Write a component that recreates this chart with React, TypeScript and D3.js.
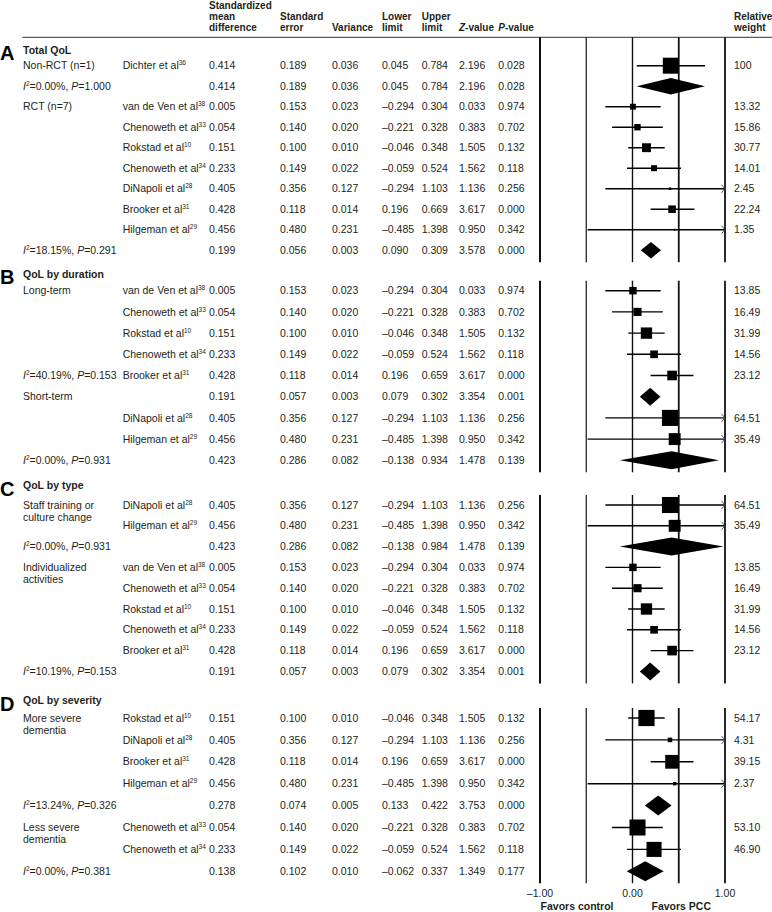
import React from "react";
import * as d3 from "d3";

type Row = [string, string, number, number, number, number, number, number, number, number | null];

const FONT = '"Liberation Sans", Arial, Helvetica, sans-serif';
const TXT = "#231f20";

const sectionLetters = ["A", "B", "C", "D"];
const sectionTitles = ["Total QoL", "QoL by duration", "QoL by type", "QoL by severity"];

// [label, study|ref, SMD, SE, Variance, Lower, Upper, Z, P, weight]
const rowsA: Row[] = [
  ["Non-RCT (n=1)", "Dichter et al|36", 0.414, 0.189, 0.036, 0.045, 0.784, 2.196, 0.028, 100],
  ["I2=0.00%, P=1.000", "", 0.414, 0.189, 0.036, 0.045, 0.784, 2.196, 0.028, null],
  ["RCT (n=7)", "van de Ven et al|38", 0.005, 0.153, 0.023, -0.294, 0.304, 0.033, 0.974, 13.32],
  ["", "Chenoweth et al|33", 0.054, 0.14, 0.02, -0.221, 0.328, 0.383, 0.702, 15.86],
  ["", "Rokstad et al|10", 0.151, 0.1, 0.01, -0.046, 0.348, 1.505, 0.132, 30.77],
  ["", "Chenoweth et al|34", 0.233, 0.149, 0.022, -0.059, 0.524, 1.562, 0.118, 14.01],
  ["", "DiNapoli et al|28", 0.405, 0.356, 0.127, -0.294, 1.103, 1.136, 0.256, 2.45],
  ["", "Brooker et al|31", 0.428, 0.118, 0.014, 0.196, 0.669, 3.617, 0.0, 22.24],
  ["", "Hilgeman et al|29", 0.456, 0.48, 0.231, -0.485, 1.398, 0.95, 0.342, 1.35],
  ["I2=18.15%, P=0.291", "", 0.199, 0.056, 0.003, 0.09, 0.309, 3.578, 0.0, null],
];

const rowsB: Row[] = [
  ["Long-term", "van de Ven et al|38", 0.005, 0.153, 0.023, -0.294, 0.304, 0.033, 0.974, 13.85],
  ["", "Chenoweth et al|33", 0.054, 0.14, 0.02, -0.221, 0.328, 0.383, 0.702, 16.49],
  ["", "Rokstad et al|10", 0.151, 0.1, 0.01, -0.046, 0.348, 1.505, 0.132, 31.99],
  ["", "Chenoweth et al|34", 0.233, 0.149, 0.022, -0.059, 0.524, 1.562, 0.118, 14.56],
  ["I2=40.19%, P=0.153", "Brooker et al|31", 0.428, 0.118, 0.014, 0.196, 0.659, 3.617, 0.0, 23.12],
  ["Short-term", "", 0.191, 0.057, 0.003, 0.079, 0.302, 3.354, 0.001, null],
  ["", "DiNapoli et al|28", 0.405, 0.356, 0.127, -0.294, 1.103, 1.136, 0.256, 64.51],
  ["", "Hilgeman et al|29", 0.456, 0.48, 0.231, -0.485, 1.398, 0.95, 0.342, 35.49],
  ["I2=0.00%, P=0.931", "", 0.423, 0.286, 0.082, -0.138, 0.934, 1.478, 0.139, null],
];

const rowsC: Row[] = [
  ["Staff training or|culture change", "DiNapoli et al|28", 0.405, 0.356, 0.127, -0.294, 1.103, 1.136, 0.256, 64.51],
  ["", "Hilgeman et al|29", 0.456, 0.48, 0.231, -0.485, 1.398, 0.95, 0.342, 35.49],
  ["I2=0.00%, P=0.931", "", 0.423, 0.286, 0.082, -0.138, 0.984, 1.478, 0.139, null],
  ["Individualized|activities", "van de Ven et al|38", 0.005, 0.153, 0.023, -0.294, 0.304, 0.033, 0.974, 13.85],
  ["", "Chenoweth et al|33", 0.054, 0.14, 0.02, -0.221, 0.328, 0.383, 0.702, 16.49],
  ["", "Rokstad et al|10", 0.151, 0.1, 0.01, -0.046, 0.348, 1.505, 0.132, 31.99],
  ["", "Chenoweth et al|34", 0.233, 0.149, 0.022, -0.059, 0.524, 1.562, 0.118, 14.56],
  ["", "Brooker et al|31", 0.428, 0.118, 0.014, 0.196, 0.659, 3.617, 0.0, 23.12],
  ["I2=10.19%, P=0.153", "", 0.191, 0.057, 0.003, 0.079, 0.302, 3.354, 0.001, null],
];

const rowsD: Row[] = [
  ["More severe|dementia", "Rokstad et al|10", 0.151, 0.1, 0.01, -0.046, 0.348, 1.505, 0.132, 54.17],
  ["", "DiNapoli et al|28", 0.405, 0.356, 0.127, -0.294, 1.103, 1.136, 0.256, 4.31],
  ["", "Brooker et al|31", 0.428, 0.118, 0.014, 0.196, 0.659, 3.617, 0.0, 39.15],
  ["", "Hilgeman et al|29", 0.456, 0.48, 0.231, -0.485, 1.398, 0.95, 0.342, 2.37],
  ["I2=13.24%, P=0.326", "", 0.278, 0.074, 0.005, 0.133, 0.422, 3.753, 0.0, null],
  ["Less severe|dementia", "Chenoweth et al|33", 0.054, 0.14, 0.02, -0.221, 0.328, 0.383, 0.702, 53.1],
  ["", "Chenoweth et al|34", 0.233, 0.149, 0.022, -0.059, 0.524, 1.562, 0.118, 46.9],
  ["I2=0.00%, P=0.381", "", 0.138, 0.102, 0.01, -0.062, 0.337, 1.349, 0.177, null],
];

const sectionRows = [rowsA, rowsB, rowsC, rowsD];
const axisTicks = [-1, 0, 1];
const gridValues = [-1, -0.5, 0, 0.5, 1];

// layout
const layout = [
  { header: 50, first: 65.7, step: 20.5, sq: 16, dia: 8.3 },
  { header: 274, first: 290.7, step: 21.2, sq: 20, dia: 9 },
  { header: 485.7, first: 505, step: 20.8, sq: 20, dia: 9 },
  { header: 700.7, first: 718, step: 21.9, sq: 22, dia: 10 },
];
const col = { label: 23, study: 122.7, smd: 209, se: 280, v: 332, lo: 382, hi: 421.7, z: 459, p: 498.3, w: 734 };
const RULE_Y = 37.3;
const FS = 10.5;
const HFS = 10;

const x = d3.scaleLinear().domain([-1, 1]).range([540, 725]);
const fmt3 = (v: number) => (v < 0 ? "–" : "") + Math.abs(v).toFixed(3);
const fmtW = (w: number) => (w === 100 ? "100" : w.toFixed(2));
const tickFmt = (v: number) => (v < 0 ? "–" : "") + Math.abs(v).toFixed(2);

function Label({ text, y }: { text: string; y: number }) {
  const m = text.match(/^I2=(.*), P=(.*)$/);
  if (m) {
    return (
      <text x={col.label} y={y} dy="0.35em">
        <tspan fontStyle="italic">I</tspan>
        <tspan dy={-4} fontSize={6.5}>2</tspan>
        <tspan dy={4}>{"=" + m[1] + ", "}</tspan>
        <tspan fontStyle="italic">P</tspan>
        <tspan>{"=" + m[2]}</tspan>
      </text>
    );
  }
  const lines = text.split("|");
  return (
    <g>
      {lines.map((l, i) => (
        <text key={i} x={col.label} y={y + i * 12} dy="0.35em">
          {l}
        </text>
      ))}
    </g>
  );
}

function Study({ text, y }: { text: string; y: number }) {
  if (!text) return null;
  const [name, ref] = text.split("|");
  return (
    <text x={col.study} y={y} dy="0.35em">
      <tspan>{name}</tspan>
      <tspan dy={-4} fontSize={6.5}>{ref}</tspan>
    </text>
  );
}

export default function App() {
  const headers: [number, string[]][] = [
    [col.smd, ["Standardized", "mean", "difference"]],
    [col.se, ["Standard", "error"]],
    [col.v, ["Variance"]],
    [col.lo, ["Lower", "limit"]],
    [col.hi, ["Upper", "limit"]],
    [col.w, ["Relative", "weight"]],
  ];
  const headerLineY = [5.6, 16.6, 27.8];

  return (
    <svg
      width={772}
      height={912}
      style={{ position: "absolute", left: 0, top: 0, background: "#fff" }}
      fontFamily={FONT}
      fontSize={FS}
      fill={TXT}
    >
      {/* header */}
      <g fontWeight="bold" fontSize={HFS}>
        {headers.map(([cx, lines], i) =>
          lines.map((l, j) => (
            <text key={i + "-" + j} x={cx} y={headerLineY[3 - lines.length + j]} dy="0.35em">
              {l}
            </text>
          ))
        )}
        <text x={col.z} y={headerLineY[2]} dy="0.35em">
          <tspan fontStyle="italic">Z</tspan>
          <tspan>-value</tspan>
        </text>
        <text x={col.p} y={headerLineY[2]} dy="0.35em">
          <tspan fontStyle="italic">P</tspan>
          <tspan>-value</tspan>
        </text>
      </g>
      <line x1={22.5} x2={772} y1={RULE_Y} y2={RULE_Y} stroke="#333" strokeWidth={1} />

      {sectionRows.map((rows, si) => {
        const L = layout[si];
        const yOf = (i: number) => L.first + i * L.step;
        const size = d3.scaleSqrt().domain([0, 100]).range([0, L.sq]);
        const top = si === 0 ? RULE_Y : yOf(0) - 10;
        const bottom = yOf(rows.length - 1) + 12;
        return (
          <g key={si}>
            <text x={0} y={L.header + 10} fontSize={20} fontWeight="bold" fill="#000">
              {sectionLetters[si]}
            </text>
            <text x={col.label} y={L.header} dy="0.35em" fontWeight="bold">
              {sectionTitles[si]}
            </text>
            {gridValues.map((g) => (
              <line
                key={g}
                x1={x(g)}
                x2={x(g)}
                y1={top}
                y2={bottom}
                stroke="#111"
                strokeWidth={g === -1 ? 2 : g === -0.5 ? 1.2 : g === 0 ? 1.4 : 1.8}
              />
            ))}
            {rows.map((r, i) => {
              const [label, study, smd, se, vv, lo, hi, z, p, w] = r;
              const y = yOf(i);
              const vals: [number, number][] = [
                [col.smd, smd],
                [col.se, se],
                [col.v, vv],
                [col.lo, lo],
                [col.hi, hi],
                [col.z, z],
                [col.p, p],
              ];
              const xr = x(Math.min(hi, 1));
              return (
                <g key={i}>
                  {label && <Label text={label} y={y} />}
                  <Study text={study} y={y} />
                  {vals.map(([cx, v], k) => (
                    <text key={k} x={cx} y={y} dy="0.35em">
                      {fmt3(v)}
                    </text>
                  ))}
                  {w !== null ? (
                    <g>
                      <text x={col.w} y={y} dy="0.35em">
                        {fmtW(w)}
                      </text>
                      <line x1={x(lo)} x2={xr} y1={y} y2={y} stroke="#000" strokeWidth={1.4} />
                      {hi > 1 && (
                        <path
                          d={`M${xr - 3.5},${y - 4}L${xr},${y}L${xr - 3.5},${y + 4}`}
                          fill="none"
                          stroke="#444"
                          strokeWidth={0.9}
                        />
                      )}
                      <rect
                        x={x(smd) - size(w) / 2}
                        y={y - size(w) / 2}
                        width={size(w)}
                        height={size(w)}
                        fill="#000"
                      />
                    </g>
                  ) : (
                    <path
                      d={`M${x(lo)},${y}L${x(smd)},${y - L.dia}L${x(hi)},${y}L${x(smd)},${y + L.dia}Z`}
                      fill="#000"
                    />
                  )}
                </g>
              );
            })}
          </g>
        );
      })}

      {/* axis labels */}
      {axisTicks.map((t) => (
        <text key={t} x={x(t)} y={893.5} dy="0.35em" textAnchor="middle">
          {tickFmt(t)}
        </text>
      ))}
      <text x={x(0) - 19} y={906.7} dy="0.35em" textAnchor="end" fontWeight="bold">
        Favors control
      </text>
      <text x={x(0) + 19} y={906.7} dy="0.35em" textAnchor="start" fontWeight="bold">
        Favors PCC
      </text>
    </svg>
  );
}
